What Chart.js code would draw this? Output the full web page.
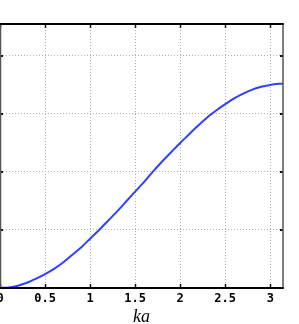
<!DOCTYPE html>
<html>
<head>
<meta charset="utf-8">
<script src="https://cdn.jsdelivr.net/npm/chart.js@4/dist/chart.umd.min.js"></script>
<style>
  html, body { margin: 0; padding: 0; background: #fff; overflow: hidden; }
  #c { display: block; }
</style>
</head>
<body>
<canvas id="c" width="299" height="324"></canvas>
<script>
// Data
const kaValues = [0, 0.1, 0.2, 0.3, 0.4, 0.5, 0.6, 0.7, 0.8, 0.9, 1.0, 1.1, 1.2, 1.3, 1.4, 1.5,
  1.6, 1.7, 1.8, 1.9, 2.0, 2.1, 2.2, 2.3, 2.4, 2.5, 2.6, 2.7, 2.8, 2.9, 3.0, 3.1, 3.1416];
const curveValues = [0, 0.01, 0.04, 0.09, 0.16, 0.24, 0.33, 0.44, 0.57, 0.70, 0.85, 1.00, 1.16, 1.32,
  1.49, 1.66, 1.83, 2.01, 2.18, 2.34, 2.50, 2.65, 2.80, 2.94, 3.06, 3.17, 3.27, 3.35, 3.42, 3.47,
  3.50, 3.52, 3.52];
const xTicks = [0, 0.5, 1, 1.5, 2, 2.5, 3];
const yTicks = [1, 2, 3, 4];
const xMin = 0, xMax = 3.1416;
const yMin = 0, yMax = 4.55;
const xTitle = 'ka';

const points = kaValues.map((x, i) => ({ x: x, y: curveValues[i] }));

const framePlugin = {
  id: 'frame',
  afterDatasetsDraw(chart) {
    const { ctx, chartArea: a, scales } = chart;
    const xs = scales.x, ys = scales.y;
    ctx.save();
    // tick marks (inward)
    ctx.strokeStyle = '#111';
    ctx.lineWidth = 1.5;
    xTicks.forEach(v => {
      const px = Math.round(xs.getPixelForValue(v)) + 0.5;
      ctx.beginPath();
      ctx.moveTo(px, a.bottom); ctx.lineTo(px, a.bottom - 4);
      ctx.moveTo(px, a.top); ctx.lineTo(px, a.top + 4);
      ctx.stroke();
    });
    ctx.lineWidth = 2;
    yTicks.forEach(v => {
      const py = Math.round(ys.getPixelForValue(v));
      ctx.beginPath();
      ctx.moveTo(a.left, py); ctx.lineTo(a.left + 3, py);
      ctx.moveTo(a.right, py); ctx.lineTo(a.right - 3, py);
      ctx.stroke();
    });
    // frame
    ctx.strokeStyle = '#555';
    ctx.lineWidth = 1.5;
    ctx.beginPath();
    ctx.moveTo(a.left + 0.5, a.top); ctx.lineTo(a.left + 0.5, a.bottom);
    ctx.moveTo(a.right, a.top); ctx.lineTo(a.right, a.bottom);
    ctx.stroke();
    ctx.strokeStyle = '#000';
    ctx.lineWidth = 2;
    ctx.beginPath();
    ctx.moveTo(a.left, a.top); ctx.lineTo(a.right + 0.75, a.top);
    ctx.moveTo(a.left, a.bottom); ctx.lineTo(a.right + 0.75, a.bottom);
    ctx.stroke();
    ctx.restore();
  }
};

new Chart(document.getElementById('c'), {
  type: 'line',
  data: {
    datasets: [{
      data: points,
      borderColor: '#3040ff',
      borderWidth: 2,
      pointRadius: 0,
      cubicInterpolationMode: 'monotone',
      fill: false
    }]
  },
  options: {
    responsive: false,
    animation: false,
    events: [],
    layout: { autoPadding: false, padding: { top: 24, right: 16, left: 0, bottom: 0 } },
    plugins: { legend: { display: false }, tooltip: { enabled: false } },
    scales: {
      x: {
        type: 'linear',
        min: xMin, max: xMax,
        grid: { color: '#b0b0b0', lineWidth: 1, drawTicks: false },
        border: { display: false, dash: [1, 2] },
        afterBuildTicks(scale) { scale.ticks = xTicks.map(v => ({ value: v })); },
        afterFit(scale) { scale.height = 36; scale.paddingLeft = 0; scale.paddingRight = 0; },
        ticks: {
          includeBounds: false,
          padding: 4,
          color: '#000',
          maxRotation: 0,
          autoSkip: false,
          font: { family: 'DejaVu Sans Mono', size: 12, weight: 'bold' },
          callback: v => String(v)
        },
        title: {
          display: true, text: xTitle, color: '#000',
          padding: { top: 0, bottom: -4 },
          font: { family: 'Liberation Serif', size: 18, style: 'italic' }
        }
      },
      y: {
        type: 'linear',
        min: yMin, max: yMax,
        grid: { color: '#b0b0b0', lineWidth: 1, drawTicks: false },
        border: { display: false, dash: [1, 2] },
        afterBuildTicks(scale) { scale.ticks = yTicks.map(v => ({ value: v })); },
        afterFit(scale) { scale.width = 0; scale.paddingTop = 0; scale.paddingBottom = 0; },
        ticks: { display: false }
      }
    }
  },
  plugins: [framePlugin]
});
</script>
</body>
</html>
